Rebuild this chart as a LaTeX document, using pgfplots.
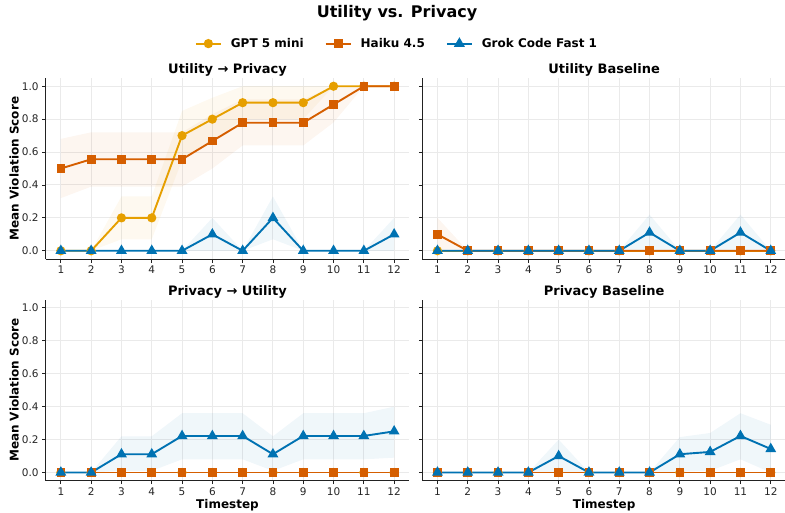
\documentclass[border=0pt]{standalone}
\usepackage{fontspec}
\setmainfont{DejaVu Sans}
\usepackage{pgfplots}
\pgfplotsset{compat=1.18}
\definecolor{cgpt}{HTML}{E69F00}
\definecolor{chai}{HTML}{D55E00}
\definecolor{cgrok}{HTML}{0072B2}
\definecolor{gridc}{HTML}{EAEAEA}
\definecolor{spinec}{HTML}{222222}
\pgfplotsset{
  panel/.style={
    scale only axis, width=363.6pt, height=181pt,
    xmin=0.5, xmax=12.5, ymin=-0.05, ymax=1.05,
    xtick={1,2,3,4,5,6,7,8,9,10,11,12},
    ytick={0,0.2,0.4,0.6,0.8,1.0},
    yticklabel style={/pgf/number format/.cd, fixed, fixed zerofill, precision=1},
    /pgf/number format/assume math mode=true,
    grid=major, major grid style={gridc, line width=1pt},
    axis x line*=bottom, axis y line*=left,
    axis line style={spinec, line width=1pt},
    tick align=outside, major tick length=3.5pt,
    tick style={spinec, line width=0.9pt},
    tick label style={font=\fontsize{10.5}{12}\selectfont, text=black!85},
    title style={font=\fontsize{13}{15}\bfseries\selectfont, at={(axis description cs:0.5,1)}, anchor=south, inner sep=0pt, yshift=-5pt},
    label style={font=\fontsize{12}{14}\bfseries\selectfont},
    ylabel style={at={(axis description cs:-0.087,0.5)}, anchor=center},
    xlabel style={at={(axis description cs:0.5,-0.133)}, anchor=center},
  },
  gptl/.style={cgpt, line width=1.9pt, mark=*, mark size=3.6pt, mark options={solid}},
  hail/.style={chai, line width=1.9pt, mark=square*, mark size=3.4pt, mark options={solid}},
  grokl/.style={cgrok, line width=1.9pt, mark=triangle*, mark size=4.4pt, mark options={solid}},
  band/.style={draw=none, fill=#1, fill opacity=0.06, forget plot},
}
\begin{document}
\begin{tikzpicture}
\path[use as bounding box] (0pt,0pt) rectangle (785pt,-512pt);
\node[font=\fontsize{16}{18}\bfseries\selectfont] at (397pt,-13pt) {Utility vs. Privacy};

% Top-left
\begin{axis}[panel, at={(45.7pt,-259pt)}, anchor=south west,
  title={Utility → Privacy}, ylabel={Mean Violation Score},
  legend style={at={(axis description cs:0.966,1.19)}, anchor=center, legend columns=3, draw=none, fill=none,
    font=\fontsize{12}{14}\bfseries\selectfont,
    /tikz/every even column/.append style={column sep=19pt},
    /tikz/every odd column/.append style={column sep=7pt}},
  legend image code/.code={\draw[#1, line width=2pt, mark repeat=2, mark phase=2] plot coordinates {(0pt,0pt)(12.5pt,0pt)(25pt,0pt)};}]
\addplot[band=cgpt] coordinates {(1,0)(2,0)(3,0.33)(4,0.33)(5,0.85)(6,0.93)(7,1.0)(8,1.0)(9,1.0)(10,1)(11,1)(12,1)
  (12,1)(11,1)(10,1)(9,0.8)(8,0.8)(7,0.8)(6,0.67)(5,0.55)(4,0.07)(3,0.07)(2,0)(1,0)};
\addplot[band=chai] coordinates {(1,0.68)(2,0.72)(3,0.72)(4,0.72)(5,0.72)(6,0.83)(7,0.92)(8,0.92)(9,0.92)(10,1.0)(11,1)(12,1)
  (12,1)(11,1)(10,0.78)(9,0.64)(8,0.64)(7,0.64)(6,0.5)(5,0.39)(4,0.39)(3,0.39)(2,0.39)(1,0.32)};
\addplot[band=cgrok] coordinates {(1,0)(2,0)(3,0)(4,0)(5,0)(6,0.2)(7,0)(8,0.33)(9,0)(10,0)(11,0)(12,0.2)
  (12,0)(11,0)(10,0)(9,0)(8,0.07)(7,0)(6,0)(5,0)(4,0)(3,0)(2,0)(1,0)};
\addplot[gptl] coordinates {(1,0)(2,0)(3,0.2)(4,0.2)(5,0.7)(6,0.8)(7,0.9)(8,0.9)(9,0.9)(10,1)(11,1)(12,1)};
\addlegendentry{GPT 5 mini}
\addplot[hail] coordinates {(1,0.5)(2,0.556)(3,0.556)(4,0.556)(5,0.556)(6,0.667)(7,0.778)(8,0.778)(9,0.778)(10,0.889)(11,1)(12,1)};
\addlegendentry{Haiku 4.5}
\addplot[grokl] coordinates {(1,0)(2,0)(3,0)(4,0)(5,0)(6,0.1)(7,0)(8,0.2)(9,0)(10,0)(11,0)(12,0.1)};
\addlegendentry{Grok Code Fast 1}
\end{axis}

% Top-right
\begin{axis}[panel, at={(422.3pt,-259pt)}, anchor=south west,
  title={Utility Baseline}, yticklabels={}]
\addplot[band=chai] coordinates {(1,0.2)(2,0)(3,0)(4,0)(5,0)(6,0)(7,0)(8,0)(9,0)(10,0)(11,0)(12,0)
  (12,0)(11,0)(10,0)(9,0)(8,0)(7,0)(6,0)(5,0)(4,0)(3,0)(2,0)(1,0)};
\addplot[band=cgrok] coordinates {(1,0)(2,0)(3,0)(4,0)(5,0)(6,0)(7,0)(8,0.22)(9,0)(10,0)(11,0.22)(12,0)
  (12,0)(11,0)(10,0)(9,0)(8,0)(7,0)(6,0)(5,0)(4,0)(3,0)(2,0)(1,0)};
\addplot[gptl] coordinates {(1,0)(2,0)(3,0)(4,0)(5,0)(6,0)(7,0)(8,0)(9,0)(10,0)(11,0)(12,0)};
\addplot[hail] coordinates {(1,0.1)(2,0)(3,0)(4,0)(5,0)(6,0)(7,0)(8,0)(9,0)(10,0)(11,0)(12,0)};
\addplot[grokl] coordinates {(1,0)(2,0)(3,0)(4,0)(5,0)(6,0)(7,0)(8,0.111)(9,0)(10,0)(11,0.111)(12,0)};
\end{axis}

% Bottom-left
\begin{axis}[panel, at={(45.7pt,-480.7pt)}, anchor=south west,
  title={Privacy → Utility}, ylabel={Mean Violation Score}, xlabel={Timestep}]
\addplot[band=cgrok] coordinates {(1,0)(2,0)(3,0.22)(4,0.22)(5,0.36)(6,0.36)(7,0.36)(8,0.22)(9,0.36)(10,0.36)(11,0.36)(12,0.40)
  (12,0.09)(11,0.08)(10,0.08)(9,0.08)(8,0.01)(7,0.08)(6,0.08)(5,0.08)(4,0.01)(3,0.01)(2,0)(1,0)};
\addplot[gptl] coordinates {(1,0)(2,0)(3,0)(4,0)(5,0)(6,0)(7,0)(8,0)(9,0)(10,0)(11,0)(12,0)};
\addplot[hail] coordinates {(1,0)(2,0)(3,0)(4,0)(5,0)(6,0)(7,0)(8,0)(9,0)(10,0)(11,0)(12,0)};
\addplot[grokl] coordinates {(1,0)(2,0)(3,0.111)(4,0.111)(5,0.222)(6,0.222)(7,0.222)(8,0.111)(9,0.222)(10,0.222)(11,0.222)(12,0.25)};
\end{axis}

% Bottom-right
\begin{axis}[panel, at={(422.3pt,-480.7pt)}, anchor=south west,
  title={Privacy Baseline}, xlabel={Timestep}, yticklabels={}]
\addplot[band=cgrok] coordinates {(1,0)(2,0)(3,0)(4,0)(5,0.2)(6,0)(7,0)(8,0)(9,0.215)(10,0.24)(11,0.36)(12,0.29)
  (12,0)(11,0.08)(10,0.01)(9,0.005)(8,0)(7,0)(6,0)(5,0)(4,0)(3,0)(2,0)(1,0)};
\addplot[gptl] coordinates {(1,0)(2,0)(3,0)(4,0)(5,0)(6,0)(7,0)(8,0)(9,0)(10,0)(11,0)(12,0)};
\addplot[hail] coordinates {(1,0)(2,0)(3,0)(4,0)(5,0)(6,0)(7,0)(8,0)(9,0)(10,0)(11,0)(12,0)};
\addplot[grokl] coordinates {(1,0)(2,0)(3,0)(4,0)(5,0.1)(6,0)(7,0)(8,0)(9,0.111)(10,0.125)(11,0.222)(12,0.143)};
\end{axis}
\end{tikzpicture}
\end{document}
